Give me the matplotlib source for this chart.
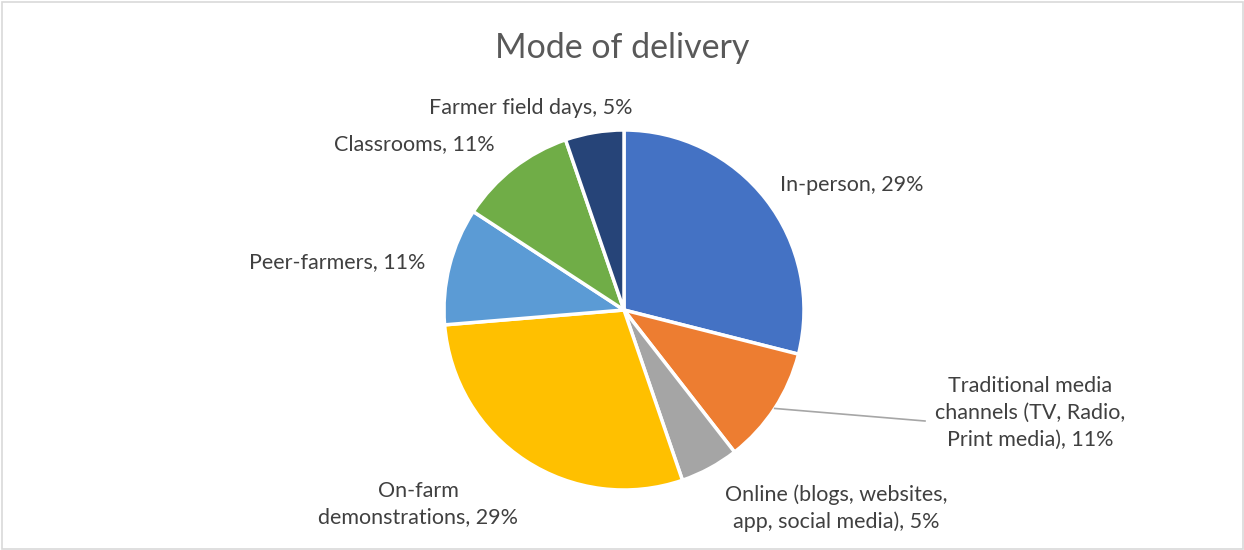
import numpy as np
import matplotlib.pyplot as plt
from matplotlib.patches import Rectangle

# data (counts giving 29/11/5/29/11/11/5 %)
categories = ["In-person", "Traditional media\nchannels (TV, Radio,\nPrint media)",
              "Online (blogs, websites,\napp, social media)", "On-farm\ndemonstrations",
              "Peer-farmers", "Classrooms", "Farmer field days"]
counts = [11, 4, 2, 11, 4, 4, 2]
pcts = ["29%", "11%", "5%", "29%", "11%", "11%", "5%"]
colors = ["#4472C4", "#ED7D31", "#A5A5A5", "#FFC000", "#5B9BD5", "#70AD47", "#264478"]

# label layout in pixel coords (x, y from top), alignment
label_pos = [(780, 185, "left"), (1030, 413, "center"), (836, 508, "center"),
             (418, 504, "center"), (337, 262, "center"), (414, 144, "center"),
             (531, 108, "center")]

W, H = 1244, 550
fig = plt.figure(figsize=(W / 100, H / 100), dpi=100)
ax = fig.add_axes([0, 0, 1, 1])

cx, cy, r = 624, H - 310, 180
wedges, _ = ax.pie(counts, colors=colors, startangle=90, counterclock=False,
                   center=(cx, cy), radius=r,
                   wedgeprops=dict(edgecolor="white", linewidth=2.5))

font = "Lato"
txt_col = "#404040"
for i, (cat, p) in enumerate(zip(categories, pcts)):
    x, y, ha = label_pos[i]
    ax.text(x, H - y, cat + ", " + p, ha=ha, va="center", fontsize=15.5,
            color=txt_col, family=font, linespacing=1.42,
            multialignment="center")

# leader line for the traditional media slice
w = wedges[1]
mid = np.deg2rad((w.theta1 + w.theta2) / 2)
ax.plot([cx + r * np.cos(mid), 925], [cy + r * np.sin(mid), H - 421],
        color="#A6A6A6", linewidth=1.2)

ax.text(W / 2, H - 48, "Mode of delivery", ha="center", va="center",
        fontsize=24.5, color="#595959", family=font)

ax.add_patch(Rectangle((1.5, 1.5), W - 3, H - 3, fill=False,
                       edgecolor="#D9D9D9", linewidth=1.2))
ax.set_xlim(0, W)
ax.set_ylim(0, H)
ax.set_aspect("equal")
ax.axis("off")

fig.savefig("out.png", dpi=100)
